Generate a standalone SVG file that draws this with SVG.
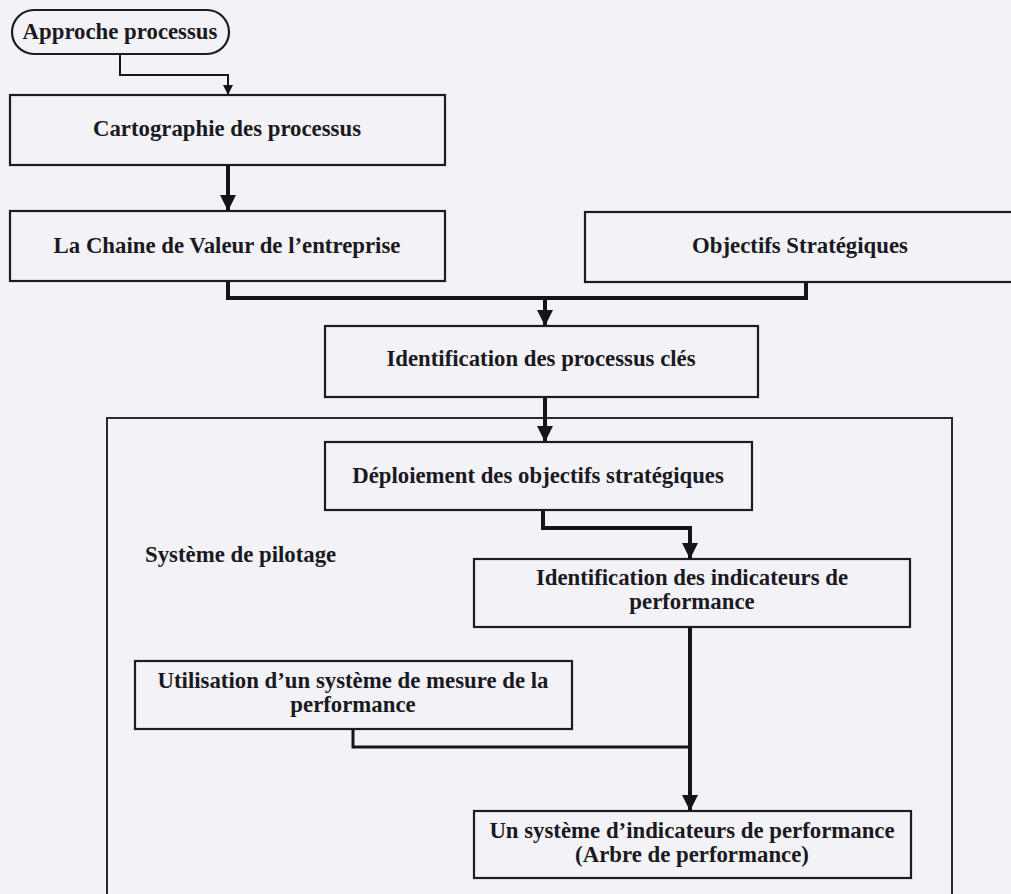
<svg xmlns="http://www.w3.org/2000/svg" width="1011" height="894" viewBox="0 0 1011 894">
  <style>
    .box { fill: none; stroke: #1c1b26; stroke-width: 2.2; }
    .frame { fill: none; stroke: #2a2836; stroke-width: 2; }
    .lbl { font-family: "Liberation Serif", "Times New Roman", serif; font-weight: bold; font-size: 22.8px; fill: #1a1922; text-anchor: middle; }
    .lbl-left { text-anchor: start; }
    .wire { fill: none; stroke: #15141c; stroke-width: 4; stroke-linejoin: miter; }
    .wire-thin { fill: none; stroke: #15141c; stroke-width: 2; }
  </style>
  <defs>
    <marker id="arrow" markerUnits="userSpaceOnUse" markerWidth="16" markerHeight="16" viewBox="0 0 16 16" refX="16" refY="8" orient="auto">
      <path d="M0,0 L16,8 L0,16 Z" fill="#15141c"/>
    </marker>
    <marker id="arrow-small" markerUnits="userSpaceOnUse" markerWidth="10" markerHeight="10" viewBox="0 0 10 10" refX="10" refY="5" orient="auto">
      <path d="M0,0 L10,5 L0,10 Z" fill="#15141c"/>
    </marker>
  </defs>

  <rect x="0" y="0" width="1011" height="894" fill="#f3f3f7"/>

  <!-- management system frame (open towards the bottom edge) -->
  <g id="systeme-pilotage">
    <rect class="frame" x="107" y="418" width="845" height="500"/>
    <text class="lbl lbl-left" x="145" y="562">Système de pilotage</text>
  </g>

  <g id="approche-processus">
    <rect class="box" x="12" y="10" width="217" height="44" rx="22" ry="22"/>
    <text class="lbl" x="120" y="39">Approche processus</text>
  </g>

  <g id="cartographie">
    <rect class="box" x="10" y="95" width="435" height="70"/>
    <text class="lbl" x="227" y="136">Cartographie des processus</text>
  </g>

  <g id="chaine-valeur">
    <rect class="box" x="10" y="211" width="435" height="70"/>
    <text class="lbl" x="227" y="253">La Chaine de Valeur de l’entreprise</text>
  </g>

  <g id="objectifs-strategiques">
    <rect class="box" x="585" y="212" width="440" height="70"/>
    <text class="lbl" x="800" y="253">Objectifs Stratégiques</text>
  </g>

  <g id="processus-cles">
    <rect class="box" x="325" y="326" width="433" height="71"/>
    <text class="lbl" x="541" y="366">Identification des processus clés</text>
  </g>

  <g id="deploiement">
    <rect class="box" x="325" y="442" width="427" height="68"/>
    <text class="lbl" x="538" y="483">Déploiement des objectifs stratégiques</text>
  </g>

  <g id="indicateurs">
    <rect class="box" x="474" y="559" width="436" height="68"/>
    <text class="lbl" x="692" y="585">Identification des indicateurs de</text>
    <text class="lbl" x="692" y="609">performance</text>
  </g>

  <g id="mesure">
    <rect class="box" x="135" y="661" width="437" height="68"/>
    <text class="lbl" x="353" y="688">Utilisation d’un système de mesure de la</text>
    <text class="lbl" x="353" y="712">performance</text>
  </g>

  <g id="arbre-performance">
    <rect class="box" x="474" y="811" width="437" height="67"/>
    <text class="lbl" x="692" y="838">Un système d’indicateurs de performance</text>
    <text class="lbl" x="692" y="862">(Arbre de performance)</text>
  </g>

  <g id="connectors">
    <path class="wire-thin" d="M120,54 V75 H228 V95" marker-end="url(#arrow-small)"/>
    <path class="wire" d="M228,165 V211" marker-end="url(#arrow)"/>
    <path class="wire" d="M228,281 V298 H806 V282"/>
    <path class="wire" d="M545,298 V326" marker-end="url(#arrow)"/>
    <path class="wire" d="M545,397 V442" marker-end="url(#arrow)"/>
    <path class="wire" d="M543,510 V528 H690 V559" marker-end="url(#arrow)"/>
    <path class="wire" d="M690,627 V811" marker-end="url(#arrow)"/>
    <path class="wire" d="M353,729 V747 H690" style="stroke-width:3"/>
  </g>
</svg>
